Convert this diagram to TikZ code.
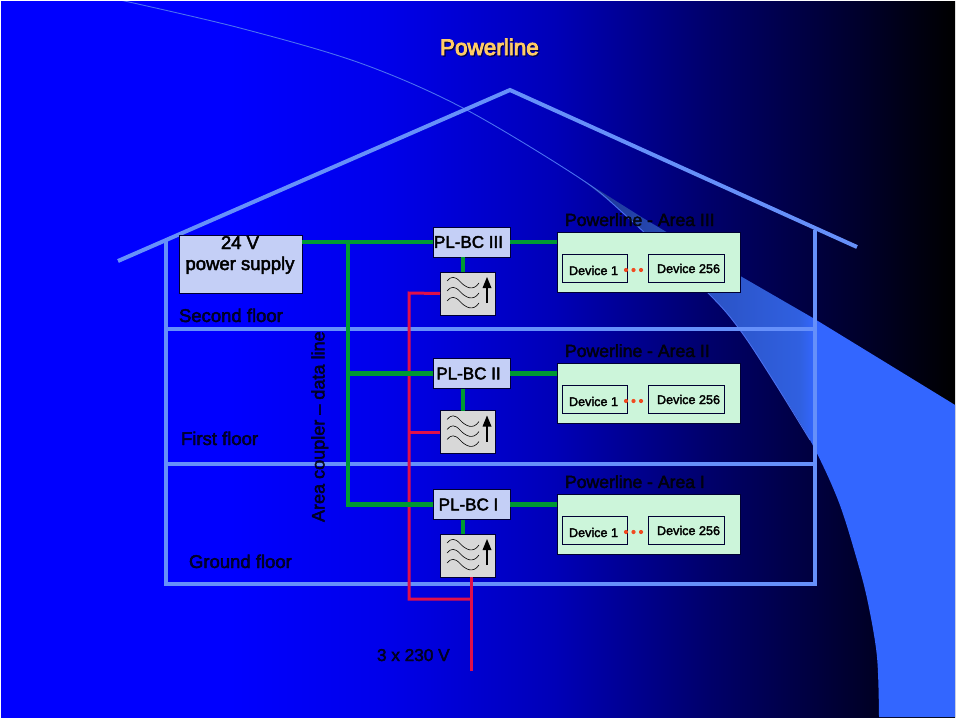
\documentclass[tikz,border=0pt]{standalone}
\usepackage{fontspec}
\setmainfont{Liberation Sans}
\newfontfamily\heavy[FakeBold=2.5]{Liberation Sans}
\newfontfamily\heavier[FakeBold=4]{Liberation Sans}
\definecolor{houseline}{HTML}{6690FA}
\definecolor{greenline}{HTML}{009933}
\definecolor{redline}{HTML}{E0104A}
\definecolor{boxblue}{HTML}{C4CFF6}
\definecolor{boxgreen}{HTML}{CCF5DA}
\definecolor{boxgrey}{HTML}{D8D8D8}
\definecolor{gold}{HTML}{FFCC66}
\definecolor{dotred}{HTML}{F04A20}
\definecolor{swa}{HTML}{1C3490}
\definecolor{swb}{HTML}{2A50C0}
\definecolor{swc}{HTML}{3060E0}
\definecolor{swd}{HTML}{3366FF}
\definecolor{swline}{HTML}{4A70F0}
\pgfdeclarehorizontalshading{slidebg}{100bp}{color(0bp)=(blue);color(25bp)=(blue);color(37bp)=(blue);color(45bp)=(blue!92!black);color(54bp)=(blue!72!black);color(62bp)=(blue!42!black);color(70bp)=(blue!17!black);color(75bp)=(black);color(100bp)=(black)}
\pgfdeclarehorizontalshading{swooshbg}{100bp}{color(0bp)=(swa);color(25bp)=(swa);color(40bp)=(swb);color(54bp)=(swc);color(56bp)=(swd);color(75bp)=(swd);color(100bp)=(swd)}
\tikzset{
  x=1pt,y=-1pt,
  every node/.style={inner sep=0pt,outer sep=0pt},
  houseln/.style={draw=houseline,line width=4pt},
  greenln/.style={draw=greenline,line width=4.2pt},
  redln/.style={draw=redline,line width=3pt},
  bcbox/.style={draw=black!80!blue,line width=1pt,fill=boxblue,minimum width=77pt,minimum height=30pt,
    font=\heavy\fontsize{17}{20}\selectfont,text=black},
  areabox/.style={draw=black!80!blue,line width=1pt,fill=boxgreen,minimum width=183pt,minimum height=60pt},
  devbox/.style={draw=black!80!blue,line width=1pt,fill=boxgreen,minimum height=28pt},
  devlabel/.style={anchor=base west,font=\heavy\fontsize{12.6}{15}\selectfont,text=black},
  arealabel/.style={anchor=base west,font=\heavy\fontsize{17.6}{20}\selectfont,text=black,text opacity=.85},
  floorlabel/.style={anchor=base west,font=\heavy\fontsize{18.5}{20}\selectfont,text=black,text opacity=.8},
  filterbox/.style={draw=black!80!blue,line width=1pt,fill=boxgrey,minimum width=55pt,minimum height=43pt},
  filterdot/.style={fill=dotred,circle,minimum size=4.2pt},
  pics/filtericon/.style={code={
    \foreach \dy in {0,10,20}{
      \draw[black,line width=.6pt,yshift=-\dy pt] (7,9) .. controls (11,4) and (15,4) .. (20,9.5) .. controls (25,15) and (33,20) .. (39,11);
    }
    \draw[black,line width=1.2pt] (47,31) -- (47,14);
    \fill[black] (47,5) -- (51.5,16) -- (42.5,16) -- cycle;
  }}
}
\begin{document}
\begin{tikzpicture}
\useasboundingbox (0,0) rectangle (960,720);
\fill[white] (0,0) rectangle (960,720);
\shade[shading=slidebg] (1,1.5) rectangle (955,717);
% swoosh
\begin{scope}
\clip (1,1.5) rectangle (955,717);
\shade[shading=swooshbg] (578,177) -- (643,218) -- (742,277) -- (813,318) -- (960,408) -- (960,717) -- (879,717)
   -- plot[smooth,tension=.55] coordinates {(879,717) (877,657) (868,603) (857,560) (838,500) (810,440) (773,380) (740,330) (708,293) (623,213) (578,177)} -- cycle;
\draw[swline,line width=.9pt] plot[smooth,tension=.55] coordinates {(120,0) (240,28) (360,63) (463,108) (578,177) (623,213) (708,293) (740,330) (773,380) (810,440)};
\end{scope}
% house
\coordinate (eaveL) at (118,261);
\coordinate (ridge) at (510,90);
\coordinate (eaveR) at (857,247);
\coordinate (wallLtop) at (166,239);
\coordinate (wallLbot) at (166,584);
\coordinate (wallRtop) at (815,230);
\coordinate (wallRbot) at (815,584);
\coordinate (floor2L) at (166,329);
\coordinate (floor1L) at (166,464);
\draw[houseln] (eaveL) -- (ridge) -- (eaveR);
\draw[houseln] (wallLtop) -- (wallLbot) -- (wallRbot) -- (wallRtop);
\draw[houseln] (floor2L) -- (floor2L -| wallRbot);
\draw[houseln] (floor1L) -- (floor1L -| wallRbot);
% title
\node[anchor=base west,font=\heavier\fontsize{22.5}{26}\selectfont,text=black!70!blue] (titleshadow) at (441.2,56.2) {Powerline};
\node[anchor=base west,font=\heavier\fontsize{22.5}{26}\selectfont,text=gold] (title) at (440,55) {Powerline};
% labels
\node[floorlabel] (l2) at (179,322) {Second floor};
\node[floorlabel] (l1) at (181,445) {First floor};
\node[floorlabel] (l0) at (189,568) {Ground floor};
\node[anchor=base west,rotate=90,font=\heavy\fontsize{18.05}{20}\selectfont,text=black,text opacity=.8] (acl) at (324.5,522) {Area coupler – data line};
\node[anchor=base west,font=\heavy\fontsize{17.2}{20}\selectfont,text=black,text opacity=.8] (v230) at (377,661) {3 x 230 V};
\node[arealabel] (a3t) at (565,226) {Powerline - Area III};
\node[arealabel] (a2t) at (565,357) {Powerline - Area II};
\node[arealabel] (a1t) at (565,488) {Powerline - Area I};
% boxes
\node[draw=black!80!blue,line width=1pt,fill=boxblue,minimum width=123pt,minimum height=58pt] (ps) at (240.5,264) {};
\node[anchor=base,align=center,font=\heavy\fontsize{18.5}{21}\selectfont,text=black] (pstext) at (240,270) {24 V\\power supply};
\node[bcbox] (bc3) at (471.5,242) {PL-BC III\hspace*{6pt}};
\node[bcbox] (bc2) at (471.5,373.5) {PL-BC II\hspace*{6pt}};
\node[bcbox] (bc1) at (471.5,504.5) {PL-BC I\hspace*{6pt}};
\node[filterbox] (f3) at (467.5,293.5) {};
\node[filterbox] (f2) at (467.5,432) {};
\node[filterbox] (f1) at (467.5,555.5) {};
\pic at (f3.north west) {filtericon};
\pic at (f2.north west) {filtericon};
\pic at (f1.north west) {filtericon};
\node[areabox] (a3) at (648.5,262) {};
\node[areabox] (a2) at (648.5,393.5) {};
\node[areabox] (a1) at (648.5,524.5) {};
\foreach \n/\y in {3/268,2/399,1/530}{
  \node[devbox,minimum width=65pt] (d\n a) at (594.5,\y) {};
  \node[devbox,minimum width=76pt] (d\n b) at (686,\y) {};
  \node[devlabel] at (569,\y+7) {Device 1};
  \node[devlabel] at (657,\y+5) {Device 256};
  \node[filterdot] at (626,\y+2) {};
  \node[filterdot] at (633.5,\y+2) {};
  \node[filterdot] at (641,\y+2) {};
}
% connectors
\coordinate (trunk) at (348,242);
\coordinate (gx) at (463,0);
\coordinate (rx) at (409,293);
\coordinate (rbot) at (409,599);
\coordinate (feedend) at (471,671);
\draw[redln,line join=miter] (f3.west) -- (rx) -- (rbot) -- (rbot -| feedend);
\draw[redln] (f2.west) -- (f2.west -| rx);
\draw[redln] (feedend |- f1.south) -- (feedend);
\draw[greenln] (ps.east |- bc3.west) -- (bc3.west);
\draw[greenln] (trunk) -- (trunk |- bc1.west) -- (bc1.west);
\draw[greenln] (trunk |- bc2.west) -- (bc2.west);
\draw[greenln] (bc3.east) -- (a3.west |- bc3.east);
\draw[greenln] (bc2.east) -- (a2.west |- bc2.east);
\draw[greenln] (bc1.east) -- (a1.west |- bc1.east);
\draw[greenln] (gx |- bc3.south) -- (gx |- f3.north);
\draw[greenln] (gx |- bc2.south) -- (gx |- f2.north);
\draw[greenln] (gx |- bc1.south) -- (gx |- f1.north);
\end{tikzpicture}
\end{document}
